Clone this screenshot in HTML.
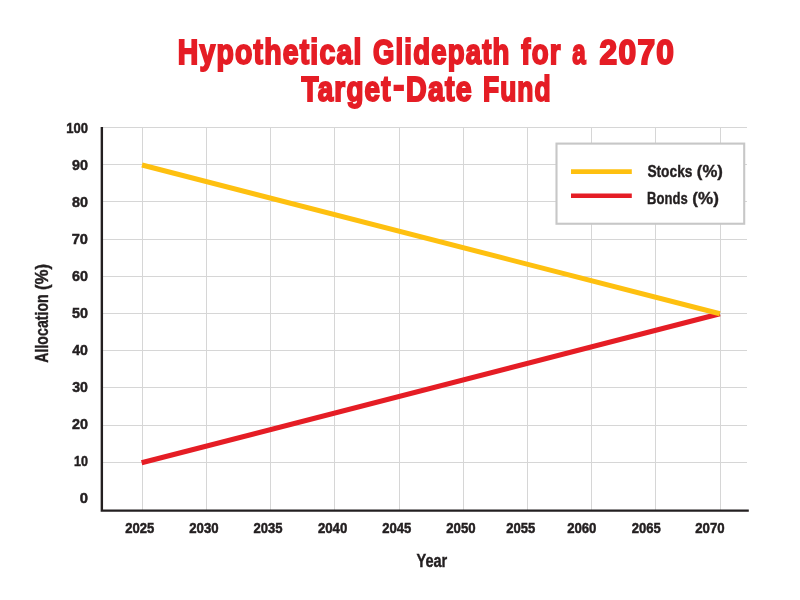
<!DOCTYPE html>
<html lang="en"><head><meta charset="utf-8"><title>Hypothetical Glidepath for a 2070 Target-Date Fund</title>
<style>
html,body{margin:0;padding:0;background:#fff;}
svg{display:block;}
text{font-family:"Liberation Sans",sans-serif;font-weight:bold;}
</style></head><body>
<svg width="800" height="600" viewBox="0 0 800 600">
<rect width="800" height="600" fill="#fff"/>
<g stroke="#d6d6d6" stroke-width="1">
<line x1="142.5" y1="127" x2="142.5" y2="510"/>
<line x1="206.5" y1="127" x2="206.5" y2="510"/>
<line x1="270.5" y1="127" x2="270.5" y2="510"/>
<line x1="334.5" y1="127" x2="334.5" y2="510"/>
<line x1="399.5" y1="127" x2="399.5" y2="510"/>
<line x1="463.5" y1="127" x2="463.5" y2="510"/>
<line x1="527.5" y1="127" x2="527.5" y2="510"/>
<line x1="591.5" y1="127" x2="591.5" y2="510"/>
<line x1="655.5" y1="127" x2="655.5" y2="510"/>
<line x1="720.5" y1="127" x2="720.5" y2="510"/>
<line x1="102" y1="127.5" x2="747" y2="127.5"/>
<line x1="102" y1="164.5" x2="747" y2="164.5"/>
<line x1="102" y1="201.5" x2="747" y2="201.5"/>
<line x1="102" y1="239.5" x2="747" y2="239.5"/>
<line x1="102" y1="276.5" x2="747" y2="276.5"/>
<line x1="102" y1="313.5" x2="747" y2="313.5"/>
<line x1="102" y1="350.5" x2="747" y2="350.5"/>
<line x1="102" y1="387.5" x2="747" y2="387.5"/>
<line x1="102" y1="425.5" x2="747" y2="425.5"/>
<line x1="102" y1="462.5" x2="747" y2="462.5"/>
</g>
<line x1="141.6" y1="462.79" x2="719.9" y2="313.75" stroke="#e51d25" stroke-width="5.0"/>
<line x1="142" y1="165.01" x2="719.9" y2="313.75" stroke="#fec010" stroke-width="5.0"/>
<path d="M101.85 127 V510.6 H748.8" fill="none" stroke="#231f20" stroke-width="2.4"/>
<rect x="556.5" y="143.6" width="187.7" height="80.15" fill="#fff" stroke="#c7c7c7" stroke-width="2.1"/>
<line x1="571" y1="171.6" x2="631.8" y2="171.6" stroke="#fec010" stroke-width="4.7"/>
<line x1="571" y1="195.7" x2="631.8" y2="195.7" stroke="#e51d25" stroke-width="4.6"/>
<text font-size="17.1" fill="#231f20" stroke="#231f20" stroke-width="0.4" stroke-linejoin="miter" stroke-miterlimit="2.5"><tspan x="647.39" y="177.10" textLength="45.07" lengthAdjust="spacingAndGlyphs">Stocks</tspan> <tspan x="696.87" y="177.10" textLength="26.02" lengthAdjust="spacingAndGlyphs">(%)</tspan></text>
<text font-size="17.1" fill="#231f20" stroke="#231f20" stroke-width="0.4" stroke-linejoin="miter" stroke-miterlimit="2.5"><tspan x="647.12" y="203.90" textLength="40.6" lengthAdjust="spacingAndGlyphs">Bonds</tspan> <tspan x="692.36" y="203.90" textLength="26.48" lengthAdjust="spacingAndGlyphs">(%)</tspan></text>
<text font-size="34.9" letter-spacing="1.5" fill="#e51d25" stroke="#e51d25" stroke-width="2.0" stroke-linejoin="miter" stroke-miterlimit="2.5"><tspan x="177.76" y="63.80" textLength="184.8" lengthAdjust="spacingAndGlyphs">Hypothetical</tspan> <tspan x="372.93" y="63.80" textLength="137.68" lengthAdjust="spacingAndGlyphs">Glidepath</tspan> <tspan x="521.34" y="63.80" textLength="40.24" lengthAdjust="spacingAndGlyphs">for</tspan> <tspan x="572.2" y="63.80" textLength="14.46" lengthAdjust="spacingAndGlyphs">a</tspan> <tspan x="599.46" y="63.80" textLength="75.86" lengthAdjust="spacingAndGlyphs">2070</tspan></text>
<text font-size="34.9" letter-spacing="1.5" fill="#e51d25" stroke="#e51d25" stroke-width="2.0" stroke-linejoin="miter" stroke-miterlimit="2.5"><tspan x="301.5" y="100.50" textLength="90.26" lengthAdjust="spacingAndGlyphs">Target</tspan><tspan x="393.34" y="96.90" textLength="12.44" lengthAdjust="spacingAndGlyphs">-</tspan><tspan x="406.03" y="100.50" textLength="66.91" lengthAdjust="spacingAndGlyphs">Date</tspan> <tspan x="482.91" y="100.50" textLength="68.89" lengthAdjust="spacingAndGlyphs">Fund</tspan></text>
<text font-size="15.0" fill="#231f20" stroke="#231f20" stroke-width="0.5" stroke-linejoin="miter" stroke-miterlimit="2.5"><tspan x="125.34" y="532.75" textLength="29.06" lengthAdjust="spacingAndGlyphs">2025</tspan></text>
<text font-size="15.0" fill="#231f20" stroke="#231f20" stroke-width="0.5" stroke-linejoin="miter" stroke-miterlimit="2.5"><tspan x="189.24" y="532.75" textLength="29.33" lengthAdjust="spacingAndGlyphs">2030</tspan></text>
<text font-size="15.0" fill="#231f20" stroke="#231f20" stroke-width="0.5" stroke-linejoin="miter" stroke-miterlimit="2.5"><tspan x="253.44" y="532.75" textLength="29.06" lengthAdjust="spacingAndGlyphs">2035</tspan></text>
<text font-size="15.0" fill="#231f20" stroke="#231f20" stroke-width="0.5" stroke-linejoin="miter" stroke-miterlimit="2.5"><tspan x="317.94" y="532.75" textLength="29.33" lengthAdjust="spacingAndGlyphs">2040</tspan></text>
<text font-size="15.0" fill="#231f20" stroke="#231f20" stroke-width="0.5" stroke-linejoin="miter" stroke-miterlimit="2.5"><tspan x="382.14" y="532.75" textLength="29.06" lengthAdjust="spacingAndGlyphs">2045</tspan></text>
<text font-size="15.0" fill="#231f20" stroke="#231f20" stroke-width="0.5" stroke-linejoin="miter" stroke-miterlimit="2.5"><tspan x="446.24" y="532.75" textLength="29.33" lengthAdjust="spacingAndGlyphs">2050</tspan></text>
<text font-size="15.0" fill="#231f20" stroke="#231f20" stroke-width="0.5" stroke-linejoin="miter" stroke-miterlimit="2.5"><tspan x="506.34" y="532.75" textLength="29.06" lengthAdjust="spacingAndGlyphs">2055</tspan></text>
<text font-size="15.0" fill="#231f20" stroke="#231f20" stroke-width="0.5" stroke-linejoin="miter" stroke-miterlimit="2.5"><tspan x="567.14" y="532.75" textLength="29.33" lengthAdjust="spacingAndGlyphs">2060</tspan></text>
<text font-size="15.0" fill="#231f20" stroke="#231f20" stroke-width="0.5" stroke-linejoin="miter" stroke-miterlimit="2.5"><tspan x="631.74" y="532.75" textLength="29.06" lengthAdjust="spacingAndGlyphs">2065</tspan></text>
<text font-size="15.0" fill="#231f20" stroke="#231f20" stroke-width="0.5" stroke-linejoin="miter" stroke-miterlimit="2.5"><tspan x="695.24" y="532.75" textLength="29.33" lengthAdjust="spacingAndGlyphs">2070</tspan></text>
<text font-size="15.0" fill="#231f20" stroke="#231f20" stroke-width="0.5" stroke-linejoin="miter" stroke-miterlimit="2.5"><tspan x="66.22" y="132.85" textLength="21.71" lengthAdjust="spacingAndGlyphs">100</tspan></text>
<text font-size="15.0" fill="#231f20" stroke="#231f20" stroke-width="0.5" stroke-linejoin="miter" stroke-miterlimit="2.5"><tspan x="71.98" y="169.85" textLength="15.94" lengthAdjust="spacingAndGlyphs">90</tspan></text>
<text font-size="15.0" fill="#231f20" stroke="#231f20" stroke-width="0.5" stroke-linejoin="miter" stroke-miterlimit="2.5"><tspan x="71.98" y="206.85" textLength="15.94" lengthAdjust="spacingAndGlyphs">80</tspan></text>
<text font-size="15.0" fill="#231f20" stroke="#231f20" stroke-width="0.5" stroke-linejoin="miter" stroke-miterlimit="2.5"><tspan x="71.72" y="243.85" textLength="16.21" lengthAdjust="spacingAndGlyphs">70</tspan></text>
<text font-size="15.0" fill="#231f20" stroke="#231f20" stroke-width="0.5" stroke-linejoin="miter" stroke-miterlimit="2.5"><tspan x="71.98" y="280.85" textLength="15.94" lengthAdjust="spacingAndGlyphs">60</tspan></text>
<text font-size="15.0" fill="#231f20" stroke="#231f20" stroke-width="0.5" stroke-linejoin="miter" stroke-miterlimit="2.5"><tspan x="71.98" y="317.85" textLength="15.94" lengthAdjust="spacingAndGlyphs">50</tspan></text>
<text font-size="15.0" fill="#231f20" stroke="#231f20" stroke-width="0.5" stroke-linejoin="miter" stroke-miterlimit="2.5"><tspan x="72.24" y="354.85" textLength="15.67" lengthAdjust="spacingAndGlyphs">40</tspan></text>
<text font-size="15.0" fill="#231f20" stroke="#231f20" stroke-width="0.5" stroke-linejoin="miter" stroke-miterlimit="2.5"><tspan x="72.24" y="391.85" textLength="15.67" lengthAdjust="spacingAndGlyphs">30</tspan></text>
<text font-size="15.0" fill="#231f20" stroke="#231f20" stroke-width="0.5" stroke-linejoin="miter" stroke-miterlimit="2.5"><tspan x="71.98" y="428.85" textLength="15.94" lengthAdjust="spacingAndGlyphs">20</tspan></text>
<text font-size="15.0" fill="#231f20" stroke="#231f20" stroke-width="0.5" stroke-linejoin="miter" stroke-miterlimit="2.5"><tspan x="74.04" y="465.85" textLength="13.94" lengthAdjust="spacingAndGlyphs">10</tspan></text>
<text font-size="15.0" fill="#231f20" stroke="#231f20" stroke-width="0.5" stroke-linejoin="miter" stroke-miterlimit="2.5"><tspan x="79.8" y="502.85" textLength="8.22" lengthAdjust="spacingAndGlyphs">0</tspan></text>
<text font-size="17.6" fill="#231f20" stroke="#231f20" stroke-width="0.4" stroke-linejoin="miter" stroke-miterlimit="2.5"><tspan x="416.5" y="567.10" textLength="30.8" lengthAdjust="spacingAndGlyphs">Year</tspan></text>
<text font-size="18" fill="#231f20" stroke="#231f20" stroke-width="0.4" stroke-linejoin="miter" stroke-miterlimit="2.5" transform="translate(47.7,362.5) rotate(-90)"><tspan x="-0.26" y="-0.20" textLength="68.52" lengthAdjust="spacingAndGlyphs">Allocation</tspan> <tspan x="72.46" y="-0.20" textLength="26.08" lengthAdjust="spacingAndGlyphs">(%)</tspan></text>
</svg></body></html>
